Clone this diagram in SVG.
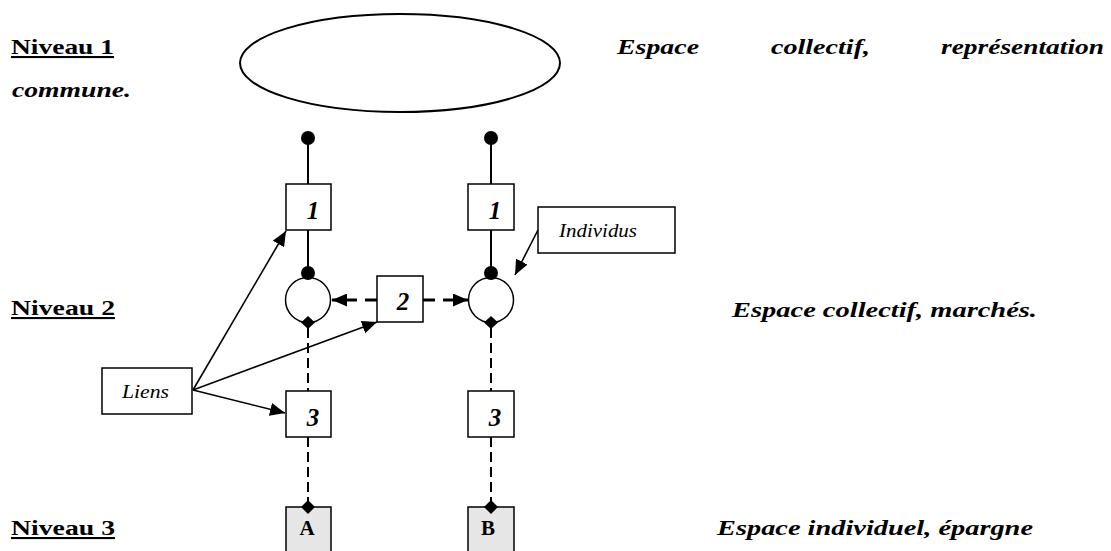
<svg xmlns="http://www.w3.org/2000/svg" width="1111" height="551" viewBox="0 0 1111 551">
<defs>
<style>
.lvl{font-family:"Liberation Serif",serif;font-weight:bold;font-size:21px;text-decoration:underline;fill:#000}
.desc{font-family:"Liberation Serif",serif;font-weight:bold;font-style:italic;font-size:21px;fill:#000}
.num{font-family:"Liberation Serif",serif;font-weight:bold;font-style:italic;font-size:25px;fill:#000}
.lab{font-family:"Liberation Serif",serif;font-style:italic;font-size:19px;fill:#000}
.letter{font-family:"Liberation Serif",serif;font-weight:bold;font-size:21px;fill:#000}
.box{fill:#fff;stroke:#000;stroke-width:1.5}
.gbox{fill:#e6e6e6;stroke:#000;stroke-width:1.5}
.solid{stroke:#000;stroke-width:2;fill:none}
.dash{stroke:#000;stroke-width:2;fill:none;stroke-dasharray:10 5}
.dash2{stroke:#000;stroke-width:3;fill:none;stroke-dasharray:12 8}
.arr{stroke:#000;stroke-width:1.6;fill:none}
</style>
<marker id="ah" markerUnits="userSpaceOnUse" markerWidth="17" markerHeight="13" refX="15" refY="6.5" orient="auto">
<path d="M0,0 L15,6.5 L0,13 z" fill="#000"/>
</marker>
</defs>
<rect width="1111" height="551" fill="#fff"/>

<g id="labels">
<text class="lvl" x="11" y="54" textLength="103" lengthAdjust="spacingAndGlyphs">Niveau 1</text>
<text class="desc" x="12" y="97" textLength="119" lengthAdjust="spacingAndGlyphs">commune.</text>
<text class="desc" x="617" y="54" textLength="82" lengthAdjust="spacingAndGlyphs">Espace</text>
<text class="desc" x="771" y="54" textLength="99" lengthAdjust="spacingAndGlyphs">collectif,</text>
<text class="desc" x="941" y="54" textLength="163" lengthAdjust="spacingAndGlyphs">représentation</text>
<text class="lvl" x="11" y="315" textLength="104" lengthAdjust="spacingAndGlyphs">Niveau 2</text>
<text class="desc" x="732" y="317" textLength="305" lengthAdjust="spacingAndGlyphs">Espace collectif, marchés.</text>
<text class="lvl" x="11" y="535" textLength="104" lengthAdjust="spacingAndGlyphs">Niveau 3</text>
<text class="desc" x="717" y="535" textLength="316" lengthAdjust="spacingAndGlyphs">Espace individuel, épargne</text>
</g>

<g id="ellipse">
<ellipse cx="400" cy="63" rx="160" ry="49" fill="#fff" stroke="#000" stroke-width="2"/>
</g>

<g id="connectors">
<line class="solid" x1="308" y1="138" x2="308" y2="184"/>
<line class="solid" x1="308" y1="230" x2="308" y2="273"/>
<line class="solid" x1="491" y1="138" x2="491" y2="184"/>
<line class="solid" x1="491" y1="230" x2="491" y2="273"/>
<circle cx="308" cy="138" r="7" fill="#000"/>
<circle cx="491" cy="138" r="7" fill="#000"/>
<line class="dash" x1="308" y1="328" x2="308" y2="391"/>
<line class="dash" x1="308" y1="437" x2="308" y2="502"/>
<line class="dash" x1="491" y1="328" x2="491" y2="391"/>
<line class="dash" x1="491" y1="437" x2="491" y2="502"/>
<line class="dash2" x1="377" y1="300" x2="332" y2="300" marker-end="url(#ah)"/>
<line class="dash2" x1="423" y1="300" x2="468" y2="300" marker-end="url(#ah)"/>
<line class="arr" x1="193" y1="390" x2="286" y2="231" marker-end="url(#ah)"/>
<line class="arr" x1="193" y1="390" x2="377" y2="322" marker-end="url(#ah)"/>
<line class="arr" x1="193" y1="390" x2="285" y2="413" marker-end="url(#ah)"/>
<line class="arr" x1="538" y1="230" x2="515" y2="275" marker-end="url(#ah)"/>
</g>

<g id="box1a"><rect class="box" x="286" y="184" width="45" height="46"/><text class="num" x="313" y="219" text-anchor="middle">1</text></g>
<g id="box1b"><rect class="box" x="468" y="184" width="46" height="46"/><text class="num" x="495" y="219" text-anchor="middle">1</text></g>

<g id="indivA">
<circle cx="308" cy="300" r="22.5" fill="#fff" stroke="#000" stroke-width="1.5"/>
<circle cx="308" cy="273" r="7" fill="#000"/>
<path d="M308,316 L315,322.5 L308,329 L301,322.5 z" fill="#000"/>
</g>
<g id="indivB">
<circle cx="491" cy="300" r="22.5" fill="#fff" stroke="#000" stroke-width="1.5"/>
<circle cx="491" cy="273" r="7" fill="#000"/>
<path d="M491,316 L498,322.5 L491,329 L484,322.5 z" fill="#000"/>
</g>

<g id="box2"><rect class="box" x="377" y="276" width="46" height="46"/><text class="num" x="403" y="310" text-anchor="middle">2</text></g>

<g id="box3a"><rect class="box" x="286" y="391" width="45" height="46"/><text class="num" x="313" y="426" text-anchor="middle">3</text></g>
<g id="box3b"><rect class="box" x="468" y="391" width="46" height="46"/><text class="num" x="495" y="426" text-anchor="middle">3</text></g>

<g id="boxA">
<rect class="gbox" x="286" y="507" width="45" height="60"/>
<path d="M308,500 L315,507 L308,514 L301,507 z" fill="#000"/>
<text class="letter" x="307" y="535" text-anchor="middle">A</text>
</g>
<g id="boxB">
<rect class="gbox" x="468" y="507" width="46" height="60"/>
<path d="M491,500 L498,507 L491,514 L484,507 z" fill="#000"/>
<text class="letter" x="488" y="535" text-anchor="middle">B</text>
</g>

<g id="individus"><rect class="box" x="538" y="207" width="137" height="46"/><text class="lab" x="559" y="237" textLength="78" lengthAdjust="spacingAndGlyphs">Individus</text></g>
<g id="liens"><rect class="box" x="102" y="368" width="90" height="46"/><text class="lab" x="122" y="398" textLength="47" lengthAdjust="spacingAndGlyphs">Liens</text></g>
</svg>
